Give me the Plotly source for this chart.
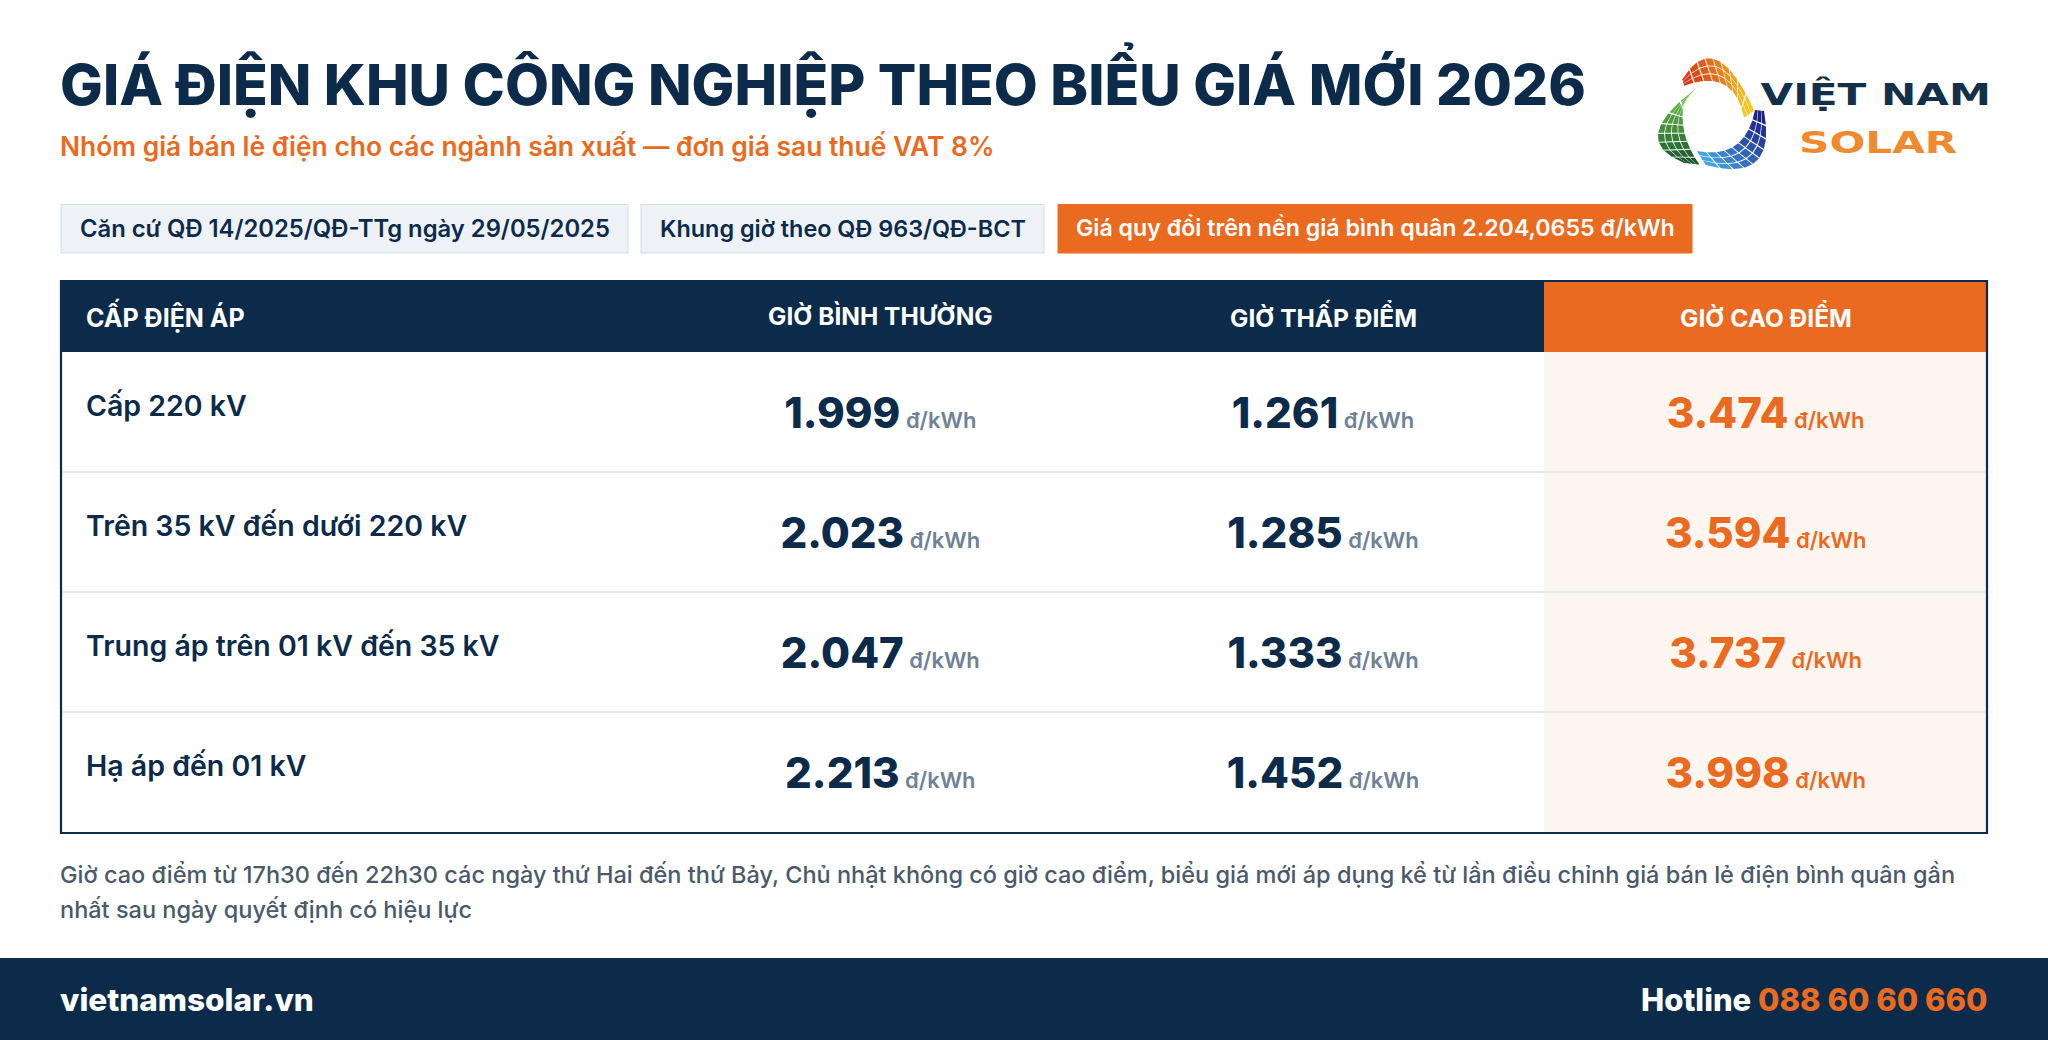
import plotly.graph_objects as go

NAVY = "#0c2b4b"
ORANGE = "#ea6a20"
CREAM = "#fdf5f0"
GRAY = "#6f8296"
FONT = "Inter"
W, H = 2048, 1040

title = "GIÁ ĐIỆN KHU CÔNG NGHIỆP THEO BIỂU GIÁ MỚI 2026"
subtitle = "Nhóm giá bán lẻ điện cho các ngành sản xuất — đơn giá sau thuế VAT 8%"
chips = [
    "Căn cứ QĐ 14/2025/QĐ-TTg ngày 29/05/2025",
    "Khung giờ theo QĐ 963/QĐ-BCT",
    "Giá quy đổi trên nền giá bình quân 2.204,0655 đ/kWh",
]
first_header = "CẤP ĐIỆN ÁP"
columns = ["GIỜ BÌNH THƯỜNG", "GIỜ THẤP ĐIỂM", "GIỜ CAO ĐIỂM"]
rows = ["Cấp 220 kV", "Trên 35 kV đến dưới 220 kV", "Trung áp trên 01 kV đến 35 kV", "Hạ áp đến 01 kV"]
normal_hours = ["1.999", "2.023", "2.047", "2.213"]
off_peak_hours = ["1.261", "1.285", "1.333", "1.452"]
peak_hours = ["3.474", "3.594", "3.737", "3.998"]
unit = "đ/kWh"
note_lines = [
    "Giờ cao điểm từ 17h30 đến 22h30 các ngày thứ Hai đến thứ Bảy, Chủ nhật không có giờ cao điểm, biểu giá mới áp dụng kể từ lần điều chỉnh giá bán lẻ điện bình quân gần",
    "nhất sau ngày quyết định có hiệu lực",
]
website = "vietnamsolar.vn"
hotline_label = "Hotline"
hotline_number = "088 60 60 660"

# table frame in page pixels
TL, TR, TT, HB, TB = 61, 1987, 281, 352, 833
COL0 = 659


def px(x):
    return x / W


def py(y):
    return 1 - y / H


shapes = []
annotations = []


def rect(x0, y0, x1, y1, fill, line=None, width=0):
    shapes.append(dict(type="rect", xref="paper", yref="paper", x0=px(x0), x1=px(x1), y0=py(y0), y1=py(y1),
                       fillcolor=fill, line=dict(color=line or fill, width=width), layer="below"))


def label(x, y, text, size, color, weight=600, anchor="left", family=FONT):
    annotations.append(dict(xref="paper", yref="paper", x=px(x), y=py(y), text=text, showarrow=False,
                            xanchor=anchor, yanchor="middle", align=anchor, borderpad=0, borderwidth=0,
                            font=dict(family=family, size=size, color=color, weight=weight)))


# header text block
label(60, 81, title, 57, NAVY, 800)
label(60, 146, subtitle, 26.4, ORANGE, 600)

# chips
chip_boxes = [(61, 628, "#eef2f7", NAVY, 23.8), (641, 1044, "#eef2f7", NAVY, 23.4), (1058, 1692, ORANGE, "white", 23.2)]
for text, (x0, x1, fill, color, size) in zip(chips, chip_boxes):
    rect(x0, 204.5, x1, 253, fill, "#d5dde8" if fill != ORANGE else ORANGE, 1)
    label((x0 + x1) / 2, 228, text, size, color, 600, "center")

# table background
rect(TL, TT, TR, TB, "white")
rect(TL, TT, TR, HB, NAVY)
rect(1544, TT, TR, HB, ORANGE)
rect(1544, HB, TR, TB, CREAM)
for y in [472, 592, 712]:
    shapes.append(dict(type="line", xref="paper", yref="paper", x0=px(TL), x1=px(TR), y0=py(y), y1=py(y),
                       line=dict(color="#dde4ec", width=1.3), layer="below"))
shapes.append(dict(type="rect", xref="paper", yref="paper", x0=px(TL), x1=px(TR), y0=py(TT), y1=py(TB),
                   line=dict(color=NAVY, width=2.2), fillcolor="rgba(0,0,0,0)", layer="above"))

label(86, 315, first_header, 25, "white", 700)

# footnote + footer
label(60, 874, note_lines[0], 23.5, "#4a5a6c", 500)
label(60, 909, note_lines[1], 23.5, "#4a5a6c", 500)
rect(0, 958, W, H, NAVY)
label(60, 999, website, 31.5, "white", 800)
label(1987, 999, f'{hotline_label} <span style="color:{ORANGE}">{hotline_number}</span>', 31, "white", 800, "right")

# logo, tiles in three crescents. curves are in crop coords of the logo (3x)
LOGO_X, LOGO_Y = 1620, 30


def mix(c0, c1, t):
    a = [int(c0[i:i + 2], 16) for i in (1, 3, 5)]
    b = [int(c1[i:i + 2], 16) for i in (1, 3, 5)]
    return "#%02x%02x%02x" % tuple(round(p + (q - p) * t) for p, q in zip(a, b))


def curve(p0, mid, p2, t):
    cx = 2 * mid[0] - (p0[0] + p2[0]) / 2
    cy = 2 * mid[1] - (p0[1] + p2[1]) / 2
    s = 1 - t
    return (s * s * p0[0] + 2 * s * t * cx + t * t * p2[0], s * s * p0[1] + 2 * s * t * cy + t * t * p2[1])


def crescent(inner, outer, n_cols, n_rows, c0, c1, gap=0.06):
    def corner(u, v):
        a = curve(*inner, u)
        b = curve(*outer, u)
        x = (a[0] + (b[0] - a[0]) * v) / 3 + LOGO_X
        y = (a[1] + (b[1] - a[1]) * v) / 3 + LOGO_Y
        return f"{px(x):.5f},{py(y):.5f}"

    for i in range(n_cols):
        for j in range(n_rows):
            u0, u1 = (i + gap) / n_cols, (i + 1 - gap) / n_cols
            v0, v1 = (j + gap) / n_rows, (j + 1 - gap) / n_rows
            path = f"M {corner(u0, v0)} L {corner(u0, v1)} L {corner(u1, v1)} L {corner(u1, v0)} Z"
            shapes.append(dict(type="path", xref="paper", yref="paper", path=path, line=dict(width=0),
                               fillcolor=mix(c0, c1, (i + 0.5) / n_cols), layer="above"))


crescent([(190, 168), (312, 165), (372, 265)], [(186, 150), (290, 88), (405, 245)], 9, 3, "#d6301a", "#f6cf1f")
crescent([(192, 212), (195, 310), (240, 405)], [(228, 176), (113, 310), (195, 400)], 8, 4, "#6cc04a", "#124d2c")
crescent([(228, 362), (345, 345), (405, 238)], [(255, 405), (410, 395), (432, 240)], 9, 3, "#45aaea", "#1c1a80")

label(1875, 94, "VIỆT NAM", 31, "#12304a", 700, "center", "DejaVu Sans")
label(1878, 142, "SOLAR", 31, "#f08a2e", 700, "center", "DejaVu Sans")

fig = go.Figure()

# values sit on category axes that span the table cells
series = [normal_hours, off_peak_hours, peak_hours]
for col, vals in zip(columns, series):
    color = ORANGE if col == columns[2] else NAVY
    unit_color = ORANGE if col == columns[2] else GRAY
    fig.add_trace(go.Scatter(
        x=[col] * len(rows), y=rows, mode="text", hoverinfo="skip", showlegend=False,
        text=[f'{v}<span style="font-size:22px;color:{unit_color};font-weight:600"> {unit}</span>' for v in vals],
        textposition="middle center",
        textfont=dict(family=FONT, size=42, color=color, weight=800),
    ))

for col in columns:
    annotations.append(dict(xref="x", yref="paper", x=col, y=py(316), text=col, showarrow=False,
                            xanchor="center", yanchor="middle",
                            font=dict(family=FONT, size=24.5, color="white", weight=700)))
for row in rows:
    annotations.append(dict(xref="paper", yref="y", x=px(86), y=row, text=row, showarrow=False, yshift=12,
                            xanchor="left", yanchor="middle", borderpad=0, borderwidth=0,
                            font=dict(family=FONT, size=28.5, color=NAVY, weight=600)))

fig.update_layout(
    width=W, height=H, margin=dict(l=0, r=0, t=0, b=0),
    paper_bgcolor="white", plot_bgcolor="rgba(0,0,0,0)", showlegend=False,
    shapes=shapes, annotations=annotations,
    xaxis=dict(domain=[px(COL0), px(TR)], type="category", categoryorder="array", categoryarray=columns,
               range=[-0.5, 2.5], visible=False, fixedrange=True),
    yaxis=dict(domain=[py(TB + 5), py(HB + 5)], type="category", categoryorder="array", categoryarray=rows,
               range=[3.5, -0.5], visible=False, fixedrange=True),
)

# the logo wordmark is a wide font, nothing installed comes close, so stretch it
stretch_js = """
document.body.style.margin='0';
document.querySelectorAll('.annotation-text').forEach(function(t){
  if (t.textContent === 'VIỆT NAM' || t.textContent === 'SOLAR') {
    t.style.transformBox = 'fill-box';
    t.style.transformOrigin = 'center';
    t.style.transform = 'scaleX(1.36)';
  }
});
"""
fig.write_html("out.html", config={"displayModeBar": False}, post_script=stretch_js)
